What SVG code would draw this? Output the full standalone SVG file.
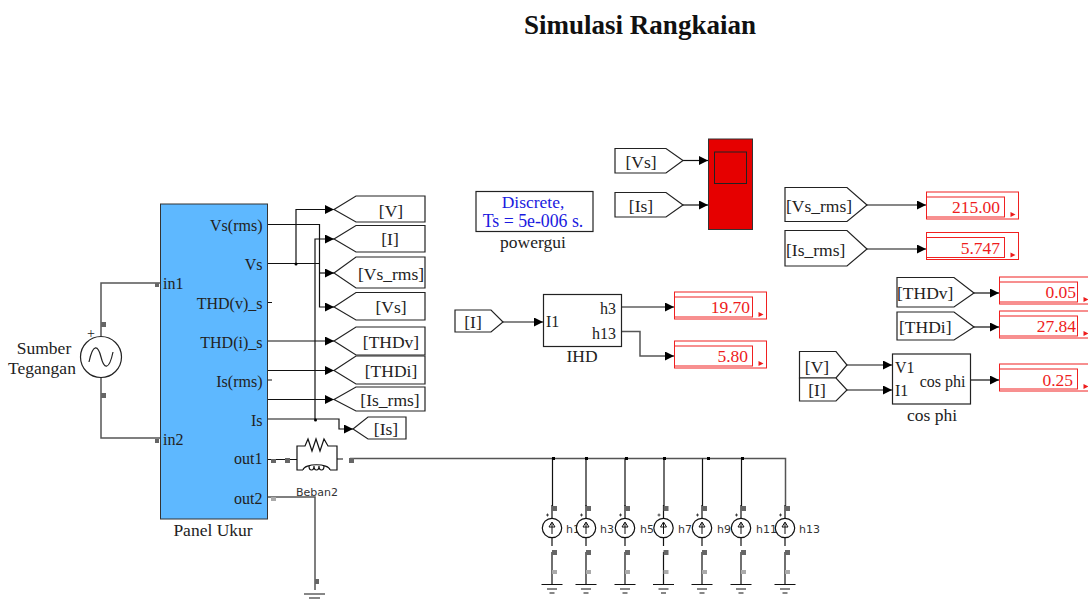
<svg xmlns="http://www.w3.org/2000/svg" width="1088" height="600" viewBox="0 0 1088 600">
<style>
text{font-family:"Liberation Serif","Times New Roman",serif;font-size:17.500px;fill:#222}
text.q{font-size:16px}
.m{text-anchor:middle}.e{text-anchor:end}
.b{fill:#fff;stroke:#222;stroke-width:1.2}
.w{fill:none;stroke:#111;stroke-width:1.2}
.g{fill:none;stroke:#555;stroke-width:1.5}
.k{fill:none;stroke:#111;stroke-width:1.2}
.r{fill:#fff;stroke:#f02020;stroke-width:1}
.rn{fill:none;stroke:#f02020;stroke-width:1}
text.rt{fill:#ee1c1c;font-size:17.500px;text-anchor:end}
text.s{font-family:"DejaVu Sans",sans-serif;font-size:11px;fill:#333}
.p{fill:#666}
.lp{fill:#aaa}
</style>
<defs>
<marker id="a" markerUnits="userSpaceOnUse" markerWidth="10" markerHeight="10" refX="9" refY="4.500" orient="auto"><path d="M0,0L9,4.500L0,9Z" fill="#000"/></marker>
<g id="disp"><rect class="r" x="0" y="0" width="92" height="27"/><rect class="rn" x="0" y="5" width="78" height="20"/><path d="M84,20l5,2.500l-5,2.500z" fill="#ee1c1c"/></g>
<g id="cs">
<circle cx="0" cy="0" r="9.700" fill="#fff" stroke="#111" stroke-width="1.200"/>
<path d="M0,6V-5M-3,-1L0,-6L3,-1Z" fill="none" stroke="#111" stroke-width="1"/>
<path d="M-6,-13h3M-4.500,-14.500v3" stroke="#222" stroke-width=".8"/>
<path d="M0,-10V-23M0,10V18M0,24V56" class="w"/>
<rect x="0" y="-22" width="5" height="5" class="p"/>
<rect x="0" y="22" width="5" height="5" class="p"/>
<rect x="0" y="42" width="5" height="4" class="lp"/>
<path d="M-10.500,56.500H10.500M-5,61H5M-2.500,65H2.500" class="w"/>
</g>
</defs>

<text x="640" y="34" class="m" style="font-size:27px;font-weight:bold;fill:#111">Simulasi Rangkaian</text>

<g id="connectors">
<path class="g" d="M101,336V283H160M101,378V438H160"/>
<path class="w" d="M267,224.500H319.500V307H334" marker-end="url(#a)"/>
<path class="w" d="M319.500,273H334" marker-end="url(#a)"/>
<path class="w" d="M267,263.500H319.500M296,263.500V209.500H334" marker-end="url(#a)"/>
<path class="w" d="M315,419V239H334" marker-end="url(#a)"/>
<path class="w" d="M267,419H339V429H353" marker-end="url(#a)"/>
<path class="w" d="M267,341H334" marker-end="url(#a)"/>
<path class="w" d="M272,302.500H266.500V370.500H334" marker-end="url(#a)"/>
<path class="w" d="M272,380H266.500V399.500H334" marker-end="url(#a)"/>
<circle cx="296" cy="264" r="1.500"/><circle cx="315.500" cy="420" r="1.500"/>
<path class="w" d="M268,459.500H297M337,459H343"/>
<path class="g" d="M350,458.500H785.500V506"/>
<path class="g" d="M268,497H315V590"/>
<path class="k" d="M683,160.500H708" marker-end="url(#a)"/>
<path class="k" d="M683,205H708" marker-end="url(#a)"/>
<path class="k" d="M503,322H543" marker-end="url(#a)"/>
<path class="k" d="M621,307H674" marker-end="url(#a)"/>
<path class="g" d="M621,331.500H640V356H674" marker-end="url(#a)"/>
<path class="k" d="M867,205H926" marker-end="url(#a)"/>
<path class="k" d="M867,249H926" marker-end="url(#a)"/>
<path class="k" d="M974,293H999" marker-end="url(#a)"/>
<path class="k" d="M974,327H999" marker-end="url(#a)"/>
<path class="k" d="M847,365H892" marker-end="url(#a)"/>
<path class="k" d="M847,390H892" marker-end="url(#a)"/>
<path class="k" d="M970,380H999" marker-end="url(#a)"/>
<path class="w" d="M552.500,458.500V506M586,458.500V506M625,458.500V506M664,458.500V506M702.500,458.500V506M741.500,458.500V506"/>
<rect x="552" y="457" width="3" height="3"/><rect x="585" y="457" width="3" height="3"/><rect x="625" y="457" width="3" height="3"/><rect x="663" y="457" width="3" height="3"/><rect x="707" y="457" width="3" height="3"/><rect x="741" y="457" width="3" height="3"/>
</g>

<g id="panel"><rect x="160.500" y="204" width="107" height="315" fill="#5eb8ff" stroke="#333" stroke-width="1"/>
<text x="262.500" y="231" class="e q">Vs(rms)</text><text x="262.500" y="270" class="e q">Vs</text><text x="262.500" y="309" class="e q">THD(v)_s</text><text x="262.500" y="348" class="e q">THD(i)_s</text><text x="262.500" y="387" class="e q">Is(rms)</text><text x="262.500" y="426" class="e q">Is</text><text x="262.500" y="464" class="e q">out1</text><text x="262.500" y="504" class="e q">out2</text><text x="163" y="289" class="q">in1</text><text x="163" y="445" class="q">in2</text>
<text x="213" y="536" class="m">Panel Ukur</text>
<rect x="155" y="283" width="4" height="4" class="p"/><rect x="155" y="439" width="4" height="4" class="p"/></g>

<g id="source"><circle cx="101" cy="357" r="20.500" fill="#fff" stroke="#222" stroke-width="1.200"/><path d="M89,362C93,343 98,345 101,357C104,369 109,371 113,352" fill="none" stroke="#222" stroke-width="1.200"/><text x="91" y="338" class="m" style="font-size:14px">+</text>
<rect x="101" y="322" width="5" height="5" class="p"/><rect x="101" y="393" width="5" height="5" class="p"/>
<text x="44" y="354" class="m">Sumber</text><text x="42" y="374" class="m">Tegangan</text></g>

<g id="tags">
<path class="b" d="M334,209.500L356,196H425V222H356Z"/><text x="391" y="217" class="m">[V]</text>
<path class="b" d="M334,239L356,225.500H425V252H356Z"/><text x="390" y="245" class="m">[I]</text>
<path class="b" d="M334,273L356,257H425V288H356Z"/><text x="391" y="280" class="m">[Vs_rms]</text>
<path class="b" d="M334,307L356,292.500H425V320H356Z"/><text x="391" y="313" class="m">[Vs]</text>
<path class="b" d="M334,341L356,327H425V355H356Z"/><text x="391" y="348" class="m">[THDv]</text>
<path class="b" d="M334,370.500L356,356H425V384H356Z"/><text x="391" y="377" class="m">[THDi]</text>
<path class="b" d="M334,399.500L356,387H425V411H356Z"/><text x="390" y="406" class="m">[Is_rms]</text>
<path class="b" d="M353,429L368,417H406V439H368Z"/><text x="386" y="435" class="m">[Is]</text>
</g>

<g id="load"><path class="k" d="M297,459V446H305L308,439L312,451L316,439L320,451L324,439L328,446H337V459M297,459V470H303M337,459V470H330M303,470C304,463 329,463 330,470"/><path class="k" d="M309,466a2.500,4 0 1,0 5,0a2.500,4 0 1,0 5,0a2.500,4 0 1,0 5,0"/>
<rect x="271" y="459" width="5" height="4" class="p"/><rect x="285" y="458" width="5" height="5" class="p"/><rect x="349" y="458" width="5" height="5" class="p"/><rect x="271" y="497" width="5" height="4" class="lp"/>
<text x="317" y="496" class="m s">Beban2</text></g>

<g id="ground"><rect x="315" y="579" width="4" height="5" class="p"/><path class="w" d="M304,594H325M309,598H320"/></g>

<g id="sources">
<use href="#cs" x="552" y="528"/><text x="566" y="533" class="s">h1</text>
<use href="#cs" x="586" y="528"/><text x="600" y="533" class="s">h3</text>
<use href="#cs" x="625" y="528"/><text x="640" y="533" class="s">h5</text>
<use href="#cs" x="663.500" y="528"/><text x="678" y="533" class="s">h7</text>
<use href="#cs" x="702" y="528"/><text x="717" y="533" class="s">h9</text>
<use href="#cs" x="741" y="528"/><text x="756" y="533" class="s">h11</text>
<use href="#cs" x="785" y="528"/><text x="799" y="533" class="s">h13</text>
</g>

<g id="powergui"><rect class="b" x="476" y="191.500" width="117" height="40"/><text x="533" y="208" class="m" style="font-size:17.500px;fill:#1a1ae0">Discrete,</text><text x="533" y="227" class="m" style="font-size:17.800px;fill:#1a1ae0">Ts = 5e-006 s.</text><text x="533" y="248" class="m">powergui</text></g>

<g id="scope"><path class="b" d="M615,148.500H666L683,160.500L666,173H615Z"/><text x="641" y="168" class="m">[Vs]</text>
<path class="b" d="M615,192.500H666L683,205L666,217H615Z"/><text x="641" y="212" class="m">[Is]</text>
<rect x="708.500" y="139" width="44" height="90.500" fill="#e60000" stroke="#333"/><rect x="714.500" y="152" width="32" height="31.500" fill="none" stroke="#222"/></g>

<g id="ihd"><path class="b" d="M455,310H491L503,322L491,332H455Z"/><text x="473" y="328" class="m">[I]</text>
<rect class="b" x="543.500" y="294.500" width="78" height="52"/><text x="546" y="327" class="q">I1</text><text x="616" y="314" class="e q">h3</text><text x="616" y="339" class="e q">h13</text><text x="582" y="362" class="m">IHD</text></g>

<use id="d1970" href="#disp" x="674.500" y="292"/><text x="750" y="313" class="rt">19.70</text>
<use id="d580" href="#disp" x="674.500" y="341"/><text x="748" y="362" class="rt">5.80</text>

<g id="rmstags"><path class="b" d="M785,187.500H847L867,205L847,221.500H785Z"/><text x="786" y="212">[Vs_rms]</text>
<path class="b" d="M785,230.500H847L867,249L847,266H785Z"/><text x="786" y="256">[Is_rms]</text></g>
<use id="d215" href="#disp" x="926.500" y="192"/><text x="1000" y="213" class="rt">215.00</text>
<use id="d5747" href="#disp" x="926.500" y="232.500"/><text x="1000" y="254" class="rt">5.747</text>

<g id="thdtags"><path class="b" d="M897,277.500H954L974,293L954,307H897Z"/><text x="897" y="299">[THDv]</text>
<path class="b" d="M897,312H954L974,327L954,340H897Z"/><text x="899" y="333">[THDi]</text></g>
<use id="d005" href="#disp" x="999.500" y="277"/><text x="1076" y="298" class="rt">0.05</text>
<use id="d2784" href="#disp" x="999.500" y="311"/><text x="1076" y="332" class="rt">27.84</text>

<g id="cosphi"><path class="b" d="M799.500,351.500H836L847,365L836,378H799.500Z"/><text x="817" y="373" class="m">[V]</text>
<path class="b" d="M799.500,378H836L847,390L836,401H799.500Z"/><text x="817" y="396" class="m">[I]</text>
<rect class="b" x="892.500" y="354" width="78" height="50"/><text x="895" y="373" class="q">V1</text><text x="895" y="396" class="q">I1</text><text x="965.500" y="387" class="e q">cos phi</text><text x="932" y="421" class="m">cos phi</text></g>
<use id="d025" href="#disp" x="999.500" y="364"/><text x="1073" y="386" class="rt">0.25</text>
</svg>
